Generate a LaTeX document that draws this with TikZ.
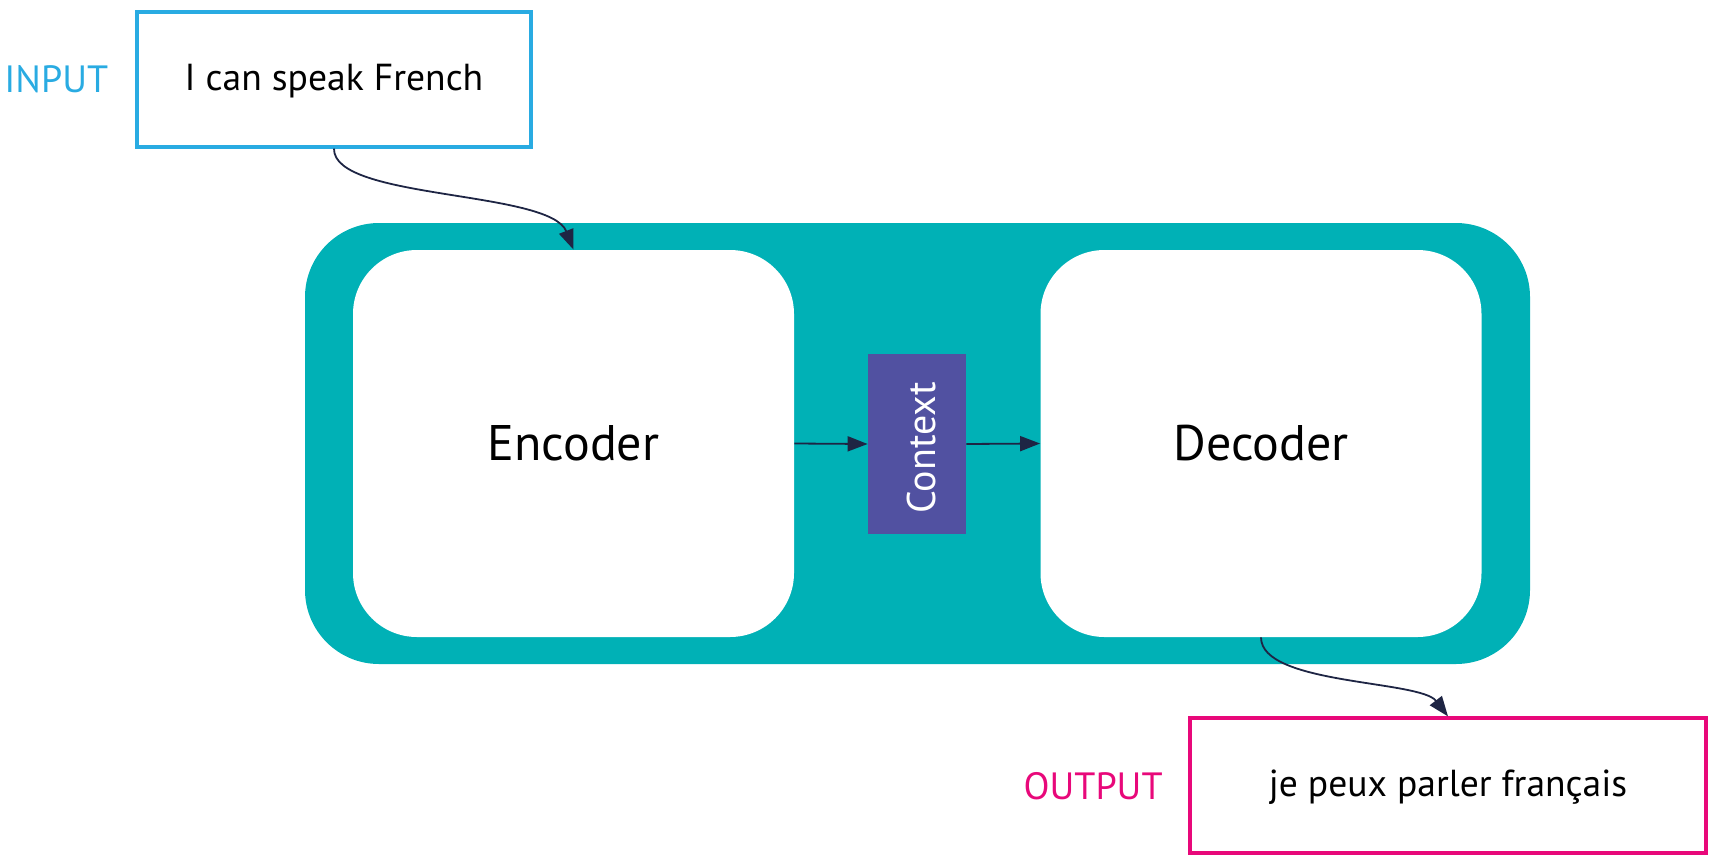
\documentclass[tikz,border=0pt]{standalone}
\usepackage{fontspec}
\setmainfont{PT Sans}
\definecolor{inblue}{HTML}{29ABE2}
\definecolor{teal2}{HTML}{00B1B6}
\definecolor{ctx}{HTML}{5151A1}
\definecolor{outpink}{HTML}{E8087A}
\definecolor{arr}{HTML}{1E2544}
\usetikzlibrary{arrows.meta}
\tikzset{
  iobox/.style={draw, line width=1.6pt, inner sep=0pt, text depth=2pt, font=\fontsize{18.8}{22}\selectfont},
  coder/.style={fill=white, rounded corners=32pt, minimum width=220.5pt, minimum height=193.5pt, inner sep=0pt, font=\fontsize{25}{28}\selectfont},
  conn/.style={draw=arr, line width=0.9pt, -{Triangle[length=10pt,width=7.5pt]}},
  lbl/.style={font=\fontsize{19}{22}\selectfont, inner sep=0pt}
}
\begin{document}
\begin{tikzpicture}[x=0.5pt,y=-0.5pt]
\useasboundingbox (0,0) rectangle (1719,867);
\fill[teal2, rounded corners=37pt] (305,223) rectangle (1530,664);
\node[iobox, draw=inblue, minimum width=197pt, minimum height=67.5pt] (in) at (334,79.5) {I can speak French};
\node[lbl, text=inblue, anchor=west] (inl) at (4,79) {INPUT};
\node[coder] (enc) at (573.5,443.5) {Encoder};
\node[coder] (dec) at (1261,443.5) {Decoder};
\node[fill=ctx, minimum width=49pt, minimum height=90pt, inner sep=0pt] (ctxn) at (917,444) {};
\node[rotate=90, text=white, font=\fontsize{20}{24}\selectfont, inner sep=0pt] (ctxt) at (921,448) {Context};
\node[iobox, draw=outpink, minimum width=258pt, minimum height=67.5pt] (out) at (1448,785.5) {je peux parler français};
\node[lbl, text=outpink, anchor=east] (outl) at (1163,786) {OUTPUT};
\draw[conn] (enc.east) -- (ctxn.west);
\draw[conn] (ctxn.east) -- (dec.west);
\draw[conn] (in.south) .. controls (333,200) and (550,190) .. (enc.north);
\draw[conn] (dec.south) .. controls (1261,685) and (1420,680) .. (out.north);
\end{tikzpicture}
\end{document}
